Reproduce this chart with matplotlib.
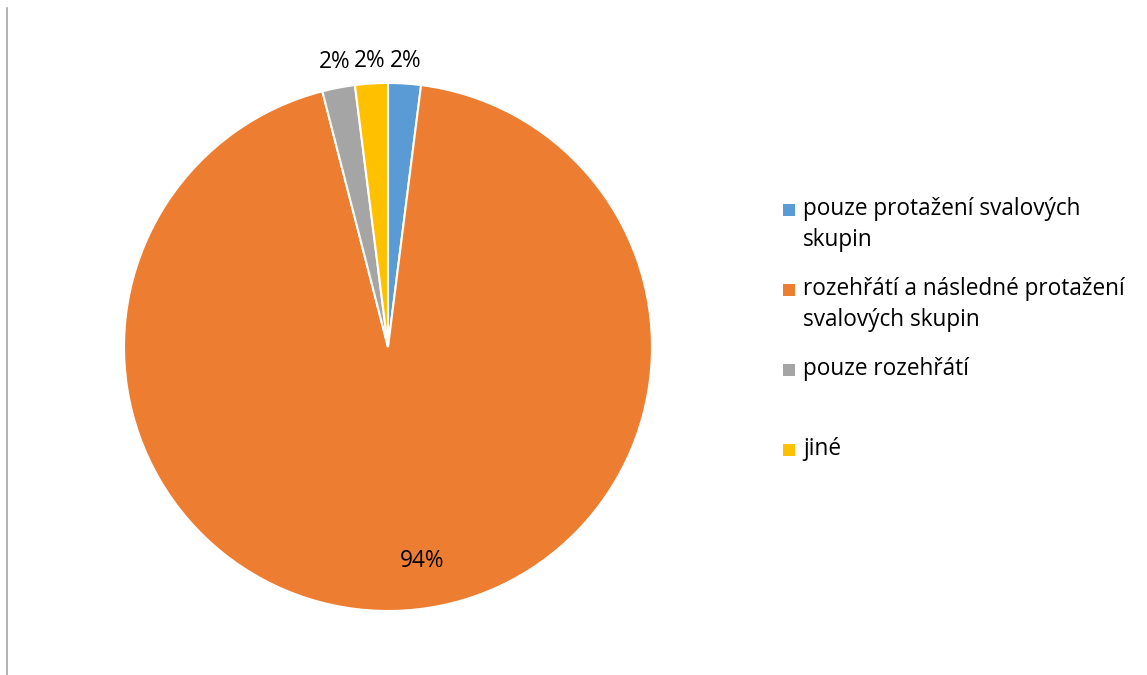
import matplotlib
matplotlib.use("Agg")
import matplotlib.pyplot as plt
from matplotlib.patches import Rectangle
from matplotlib.lines import Line2D
import numpy as np

categories = [
    "pouze protažení svalových\nskupin",
    "rozehřátí a následné protažení\nsvalových skupin",
    "pouze rozehřátí",
    "jiné",
]
shares = [2, 94, 2, 2]
pct_labels = ["2%", "94%", "2%", "2%"]
colors = ["#5B9BD5", "#ED7D31", "#A5A5A5", "#FFC000"]

plt.rcParams["font.family"] = ["Open Sans", "DejaVu Sans"]

W, H = 1147, 675
fig = plt.figure(figsize=(W / 100, H / 100), dpi=100)
fig.patch.set_facecolor("white")

# thin frame line on the left edge
fig.add_artist(Line2D([7.5 / W, 7.5 / W], [0, 1 - 8 / H], color="#A6A6A6", lw=1.2))

cx, cy, r = 388, 347, 264
ax = fig.add_axes([(cx - r) / W, (H - cy - r) / H, 2 * r / W, 2 * r / H])
ax.axis("off")

wedges, _ = ax.pie(
    shares,
    colors=colors,
    startangle=90,
    counterclock=False,
    radius=1,
    wedgeprops=dict(edgecolor="white", linewidth=1.5),
)
ax.set_xlim(-1, 1)
ax.set_ylim(-1, 1)
ax.set_aspect("equal")

# percentage labels: small slices outside the rim, the large one inside
fs = 16.3
for w, lab, val in zip(wedges, pct_labels, shares):
    mid = np.deg2rad((w.theta1 + w.theta2) / 2)
    if val < 10:
        d = 1.085
        x, y = d * np.cos(mid), d * np.sin(mid)
        y = max(y, 1.08)
    else:
        x, y = 0.13, -0.81
    ax.text(x, y, lab, ha="center", va="center", fontsize=fs, color="black")

# legend
leg_x = 783
leg_y = [210, 290, 370, 450]
sq = 12
for cat, col, yy in zip(categories, colors, leg_y):
    fig.add_artist(Rectangle((leg_x / W, (H - yy - sq / 2) / H), sq / W, sq / H,
                             transform=fig.transFigure, facecolor=col, edgecolor="none"))
    fig.text(803 / W, (H - yy + 13) / H, cat, ha="left", va="top",
             fontsize=fs, color="black", linespacing=1.38)

fig.savefig("out.png", dpi=100, facecolor="white")
